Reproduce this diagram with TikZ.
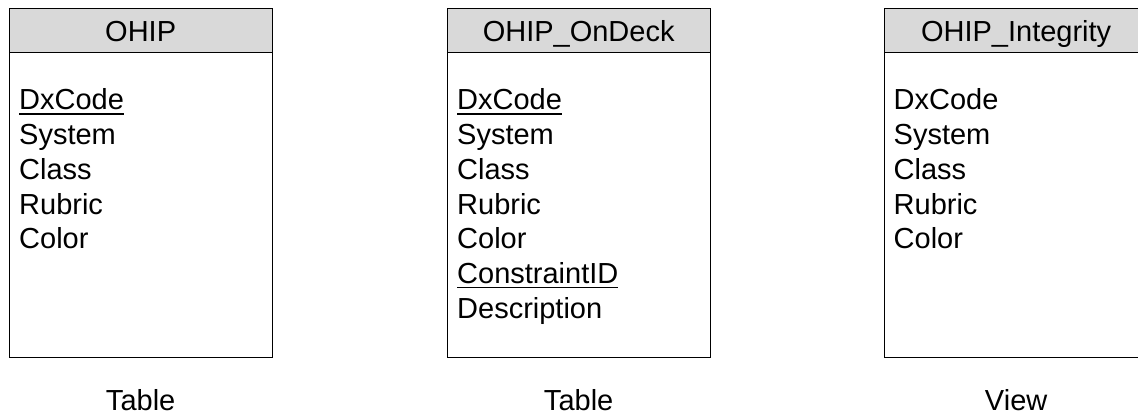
\documentclass[tikz,border=0pt]{standalone}
\usepackage{fontspec}
\setmainfont{Liberation Sans}
\usetikzlibrary{calc}
\definecolor{headgray}{RGB}{217,217,217}
% primary-key field: text with a rule under it
\newcommand\keyfield[1]{\setbox0\hbox{#1}\rlap{\rule[-4.5pt]{\wd0}{1.4pt}}\box0}
\begin{document}
\begin{tikzpicture}[x=1pt,y=-1pt,
  entity/.style={draw=black, line width=1.3pt, fill=white, minimum width=263pt,
    minimum height=349pt, anchor=north west, inner sep=0pt},
  entityhead/.style={draw=black, line width=1.3pt, fill=headgray, minimum width=263pt,
    minimum height=44pt, anchor=north west, inner sep=0pt, text height=21pt, text depth=0pt,
    font=\fontsize{29}{35}\selectfont},
  field/.style={anchor=base west, inner sep=0pt, font=\fontsize{29}{35}\selectfont},
  kindlabel/.style={anchor=base, inner sep=0pt, font=\fontsize{29}{35}\selectfont}]
\useasboundingbox (0,0) rectangle (1138,412);

% OHIP table
\node[entity] (ohip) at (8.5,8) {};
\node[entityhead] (ohiphead) at (ohip.north west) {OHIP};
\node[field] (ohipf1) at ($(ohip.north west)+(10.5,102)$) {\keyfield{DxCode}};
\node[field] (ohipf2) at ($(ohip.north west)+(10.5,136.7)$) {System};
\node[field] (ohipf3) at ($(ohip.north west)+(10.5,171.4)$) {Class};
\node[field] (ohipf4) at ($(ohip.north west)+(10.5,206.1)$) {Rubric};
\node[field] (ohipf5) at ($(ohip.north west)+(10.5,240.8)$) {Color};
\node[kindlabel] (ohipkind) at ($(ohip.south)+(0,52.5)$) {Table};

% OHIP_OnDeck table
\node[entity] (ondeck) at (446.5,8) {};
\node[entityhead] (ondeckhead) at (ondeck.north west) {OHIP\_OnDeck};
\node[field] (ondeckf1) at ($(ondeck.north west)+(10.5,102)$) {\keyfield{DxCode}};
\node[field] (ondeckf2) at ($(ondeck.north west)+(10.5,136.7)$) {System};
\node[field] (ondeckf3) at ($(ondeck.north west)+(10.5,171.4)$) {Class};
\node[field] (ondeckf4) at ($(ondeck.north west)+(10.5,206.1)$) {Rubric};
\node[field] (ondeckf5) at ($(ondeck.north west)+(10.5,240.8)$) {Color};
\node[field] (ondeckf6) at ($(ondeck.north west)+(10.5,275.5)$) {\keyfield{ConstraintID}};
\node[field] (ondeckf7) at ($(ondeck.north west)+(10.5,310.2)$) {Description};
\node[kindlabel] (ondeckkind) at ($(ondeck.south)+(0,52.5)$) {Table};

% OHIP_Integrity view
\node[entity] (integ) at (884,8) {};
\node[entityhead] (integhead) at (integ.north west) {OHIP\_Integrity};
\node[field] (integf1) at ($(integ.north west)+(9.5,102)$) {DxCode};
\node[field] (integf2) at ($(integ.north west)+(9.5,136.7)$) {System};
\node[field] (integf3) at ($(integ.north west)+(9.5,171.4)$) {Class};
\node[field] (integf4) at ($(integ.north west)+(9.5,206.1)$) {Rubric};
\node[field] (integf5) at ($(integ.north west)+(9.5,240.8)$) {Color};
\node[kindlabel] (integkind) at ($(integ.south)+(0,52.5)$) {View};
\end{tikzpicture}
\end{document}
